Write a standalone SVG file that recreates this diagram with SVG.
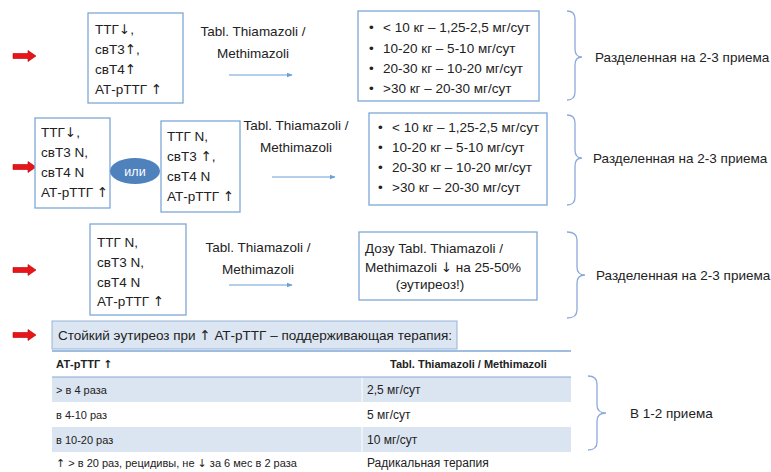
<svg xmlns="http://www.w3.org/2000/svg" width="771" height="472" viewBox="0 0 771 472">
<style>
text{font-family:"Liberation Sans",Arial,sans-serif;fill:#222}
.t{font-size:13.5px}
.s{font-size:12px}
.sl{font-size:11px}
.h{font-size:11px;font-weight:bold}
.ar{font-family:"DejaVu Sans",sans-serif}
.box{fill:#fff;stroke:#7fa7d6;stroke-width:1.3}
.con{stroke:#6a9fd8;stroke-width:1.2;fill:none}
.brace{stroke:#8eaadb;stroke-width:1.3;fill:none}
.mid{text-anchor:middle}
</style>
<defs>
<marker id="ah" viewBox="0 0 10 10" refX="9" refY="5" markerWidth="5" markerHeight="5" orient="auto"><path d="M0,1 L10,5 L0,9 z" fill="#6a9fd8"/></marker>
<path id="red" d="M0,-2.5 L15,-2.5 L15,-5.5 L23,0 L15,5.5 L15,2.5 L0,2.5 z" fill="#e8141a" stroke="#b00" stroke-width="0.6"/>
</defs>
<rect width="771" height="472" fill="#fff"/>

<g id="arrows-red">
<use href="#red" x="13" y="56"/>
<use href="#red" x="13" y="167"/>
<use href="#red" x="13" y="270"/>
<use href="#red" x="13" y="335"/>
</g>

<g id="connectors">
<line class="con" x1="229" y1="75" x2="292" y2="75" marker-end="url(#ah)"/>
<line class="con" x1="272" y1="177" x2="335" y2="177" marker-end="url(#ah)"/>
<line class="con" x1="229" y1="285" x2="292" y2="285" marker-end="url(#ah)"/>
<text class="t mid" x="253" y="36">Tabl. Thiamazoli /</text>
<text class="t mid" x="253" y="58">Methimazoli</text>
<text class="t mid" x="296" y="130">Tabl. Thiamazoli /</text>
<text class="t mid" x="296" y="152">Methimazoli</text>
<text class="t mid" x="258" y="252">Tabl. Thiamazoli /</text>
<text class="t mid" x="258" y="274">Methimazoli</text>
</g>

<g id="row1-labs">
<rect class="box" x="88" y="13" width="95" height="90"/>
<text class="t" x="95" y="34">ТТГ<tspan class="ar">↓</tspan>,</text>
<text class="t" x="95" y="54">свТ3<tspan class="ar">↑</tspan>,</text>
<text class="t" x="95" y="74">свТ4<tspan class="ar">↑</tspan></text>
<text class="t" x="95" y="94">АТ-рТТГ <tspan class="ar">↑</tspan></text>
</g>

<g id="row1-dose">
<rect class="box" x="358" y="11" width="181" height="90"/>
<text class="t" x="369" y="32">•</text><text class="t" x="383" y="32">&lt; 10 кг – 1,25-2,5 мг/сут</text>
<text class="t" x="369" y="53">•</text><text class="t" x="383" y="53">10-20 кг – 5-10 мг/сут</text>
<text class="t" x="369" y="73">•</text><text class="t" x="383" y="73">20-30 кг – 10-20 мг/сут</text>
<text class="t" x="369" y="93">•</text><text class="t" x="383" y="93">&gt;30 кг – 20-30 мг/сут</text>
</g>

<g id="row1-note">
<path class="brace" d="M567,11 Q575,11 575,19 L575,49 Q575,57 582,57 Q575,57 575,65 L575,92 Q575,100 567,100"/>
<text class="t" x="595" y="62">Разделенная на 2-3 приема</text>
</g>

<g id="row2-labs-a">
<rect class="box" x="35" y="118" width="75" height="90"/>
<text class="t" x="41" y="137">ТТГ<tspan class="ar">↓</tspan>,</text>
<text class="t" x="41" y="157">свТ3 N,</text>
<text class="t" x="41" y="177">свТ4 N</text>
<text class="t" x="41" y="197">АТ-рТТГ <tspan class="ar">↑</tspan></text>
</g>

<g id="row2-or">
<ellipse cx="135" cy="171" rx="25" ry="13" fill="#4f81bd"/>
<text x="135" y="175.5" class="mid" style="font-size:12.5px;fill:#fff">или</text>
</g>

<g id="row2-labs-b">
<rect class="box" x="161" y="121" width="79" height="91"/>
<text class="t" x="167" y="141">ТТГ N,</text>
<text class="t" x="167" y="161">свТ3 <tspan class="ar">↑</tspan>,</text>
<text class="t" x="167" y="181">свТ4 N</text>
<text class="t" x="167" y="201">АТ-рТТГ <tspan class="ar">↑</tspan></text>
</g>

<g id="row2-dose">
<rect class="box" x="369" y="113" width="178" height="92"/>
<text class="t" x="378" y="132">•</text><text class="t" x="392" y="132">&lt; 10 кг – 1,25-2,5 мг/сут</text>
<text class="t" x="378" y="152">•</text><text class="t" x="392" y="152">10-20 кг – 5-10 мг/сут</text>
<text class="t" x="378" y="172">•</text><text class="t" x="392" y="172">20-30 кг – 10-20 мг/сут</text>
<text class="t" x="378" y="192">•</text><text class="t" x="392" y="192">&gt;30 кг – 20-30 мг/сут</text>
</g>

<g id="row2-note">
<path class="brace" d="M567,115 Q575,115 575,123 L575,150 Q575,158 582,158 Q575,158 575,166 L575,197 Q575,205 567,205"/>
<text class="t" x="593" y="163">Разделенная на 2-3 приема</text>
</g>

<g id="row3-labs">
<rect class="box" x="90" y="224" width="96" height="91"/>
<text class="t" x="97" y="247">ТТГ N,</text>
<text class="t" x="97" y="267">свТ3 N,</text>
<text class="t" x="97" y="287">свТ4 N</text>
<text class="t" x="97" y="306">АТ-рТТГ <tspan class="ar">↑</tspan></text>
</g>

<g id="row3-dose">
<rect class="box" x="359" y="232" width="178" height="68"/>
<text class="t" x="365" y="253">Дозу Tabl. Thiamazoli /</text>
<text class="t" x="365" y="272">Methimazoli <tspan class="ar">↓</tspan> на 25-50%</text>
<text class="t mid" x="430" y="289">(эутиреоз!)</text>
</g>

<g id="row3-note">
<path class="brace" d="M567,232 Q577,232 577,240 L577,267 Q577,275 585,275 Q577,275 577,283 L577,310 Q577,318 567,318"/>
<text class="t" x="596" y="280">Разделенная на 2-3 приема</text>
</g>

<g id="row4-header">
<rect x="52" y="321" width="405" height="28" fill="#dce6f2" stroke="#95b3d7" stroke-width="1"/>
<text class="t" x="58" y="340">Стойкий эутиреоз при <tspan class="ar">↑</tspan> АТ-рТТГ – поддерживающая терапия:</text>
</g>

<g id="table">
<rect x="52" y="377" width="519" height="25" fill="#dbe5f1"/>
<rect x="52" y="427" width="519" height="25" fill="#dbe5f1"/>
<line x1="362" y1="377" x2="362" y2="402" stroke="#fff" stroke-width="1"/>
<line x1="362" y1="427" x2="362" y2="452" stroke="#fff" stroke-width="1"/>
<line x1="52" y1="351" x2="571" y2="351" stroke="#7fa7d6" stroke-width="1.6"/>
<line x1="52" y1="377" x2="571" y2="377" stroke="#7fa7d6" stroke-width="1"/>
<text class="h" x="56" y="368">АТ-рТТГ <tspan class="ar">↑</tspan></text>
<text class="h" x="390" y="368">Tabl. Thiamazoli / Methimazoli</text>
<text class="sl" x="56" y="394">&gt; в 4 раза</text>
<text class="s" x="367" y="394">2,5 мг/сут</text>
<text class="sl" x="56" y="419">в 4-10 раз</text>
<text class="s" x="367" y="419">5 мг/сут</text>
<text class="sl" x="56" y="444">в 10-20 раз</text>
<text class="s" x="367" y="444">10 мг/сут</text>
<text class="sl" x="56" y="467"><tspan class="ar">↑</tspan> &gt; в 20 раз, рецидивы, не <tspan class="ar">↓</tspan> за 6 мес в 2 раза</text>
<text class="s" x="367" y="467">Радикальная терапия</text>
</g>

<g id="row4-note">
<path class="brace" d="M588,376 Q597,376 597,384 L597,405 Q597,413 606,413 Q597,413 597,421 L597,442 Q597,450 588,450"/>
<text class="t" x="630" y="418">В 1-2 приема</text>
</g>
</svg>
